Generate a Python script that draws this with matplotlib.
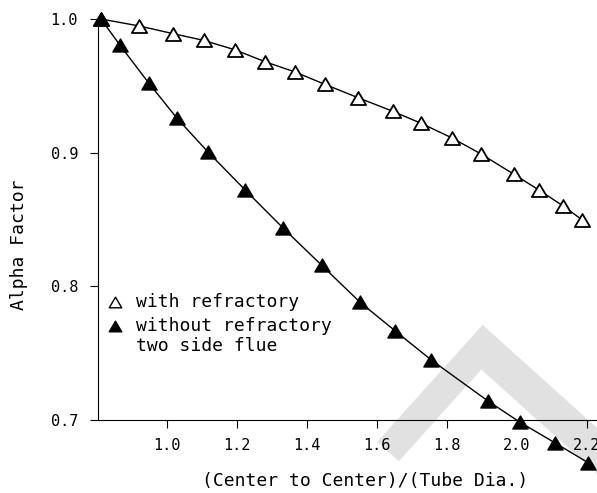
import matplotlib
matplotlib.use("Agg")
import matplotlib.pyplot as plt
from matplotlib.path import Path

# values
x_with = [0.81, 0.919, 1.017, 1.104, 1.193, 1.28, 1.364, 1.452, 1.547, 1.645,
          1.726, 1.815, 1.898, 1.991, 2.064, 2.134, 2.186]
y_with = [1.0, 0.9948, 0.989, 0.984, 0.977, 0.968, 0.9605, 0.951, 0.941, 0.931,
          0.922, 0.911, 0.899, 0.884, 0.872, 0.860, 0.850]

x_without = [0.81, 0.864, 0.947, 1.028, 1.116, 1.223, 1.331, 1.442, 1.552,
             1.653, 1.755, 1.919, 2.009, 2.109, 2.205]
y_without = [1.0, 0.9805, 0.952, 0.9256, 0.9006, 0.872, 0.8437, 0.8157, 0.788,
             0.7665, 0.745, 0.714, 0.6984, 0.683, 0.668]

x_ticks = [1.0, 1.2, 1.4, 1.6, 1.8, 2.0, 2.2]
y_ticks = [0.7, 0.8, 0.9, 1.0]

label_with = "with refractory"
label_without = "without refractory\ntwo side flue"
x_title = "(Center to Center)/(Tube Dia.)"
y_title = "Alpha Factor"

plt.rcParams['font.family'] = ['DejaVu Sans Mono']
plt.rcParams['font.size'] = 13

fig = plt.figure(figsize=(5.97, 4.93), dpi=100)
ax = fig.add_axes([97.5 / 597, 73 / 493, 499.5 / 597, 401 / 493])
ax.patch.set_alpha(0)

# faint watermark stroke behind everything
fig.text(448 / 597, 1 - 323 / 493, "L", fontsize=250, color="#e1e1e1",
         family="DejaVu Sans", rotation=-132, rotation_mode="anchor",
         ha="left", va="baseline", zorder=-1)

# flattened, closed triangle marker
tri = Path([(0, 0.85), (-1, -0.85), (1, -0.85), (0, 0.85)],
           [Path.MOVETO, Path.LINETO, Path.LINETO, Path.CLOSEPOLY])

ax.plot(x_with, y_with, color="black", lw=1.0, marker=tri, ms=11,
        mfc="white", mec="black", mew=1.3, clip_on=False, zorder=3)
ax.plot(x_without, y_without, color="black", lw=1.0, marker=tri, ms=11,
        mfc="black", mec="black", mew=1.0, clip_on=False, zorder=3)

ax.set_xlim(0.8, 2.23)
ax.set_ylim(0.7, 1.0)
ax.set_xticks(x_ticks)
ax.set_yticks(y_ticks)
ax.set_xticklabels([f"{v:.1f}" for v in x_ticks])
ax.set_yticklabels([f"{v:.1f}" for v in y_ticks])
for s in ["top", "right"]:
    ax.spines[s].set_visible(False)
for s in ["left", "bottom"]:
    ax.spines[s].set_linewidth(0.8)
ax.tick_params(direction="out", length=6, width=0.8, labelsize=11)
ax.tick_params(axis="y", pad=8)
ax.tick_params(axis="x", pad=7)

# legend, placed by hand like the original
ax.plot([0.035], [0.295], ls="none", marker=tri, ms=9, mfc="white", mec="black",
        mew=1.0, transform=ax.transAxes, clip_on=False)
ax.plot([0.035], [0.234], ls="none", marker=tri, ms=9, mfc="black", mec="black",
        transform=ax.transAxes, clip_on=False)
ax.text(0.077, 0.295, label_with, transform=ax.transAxes, ha="left", va="center")
ax.text(0.077, 0.21, label_without, transform=ax.transAxes, ha="left", va="center",
        linespacing=1.15)

fig.text(365 / 597, 1 - 481 / 493, x_title, ha="center", va="center")
fig.text(19 / 597, 1 - 245 / 493, y_title, ha="center", va="center", rotation=90)

fig.savefig("out.png", dpi=100)
